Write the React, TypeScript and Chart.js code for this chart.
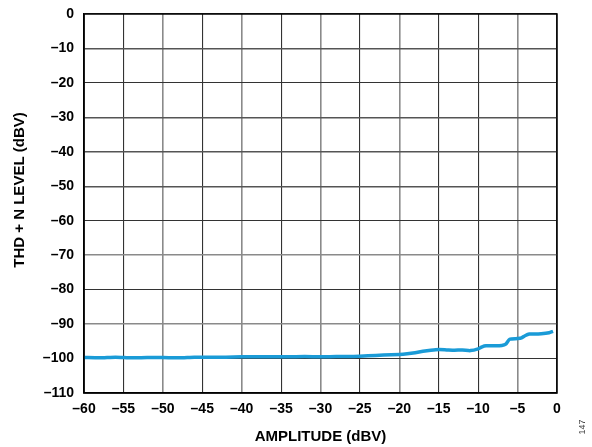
import React, { useEffect, useRef } from "react";
import { Chart, registerables } from "chart.js";

Chart.register(...registerables);

const amplitude = [-60, -58, -56, -54, -52, -50, -48, -46, -44, -42, -40, -38, -36, -34, -32, -30, -28, -26, -24, -22, -20, -19, -18, -17, -16, -15, -14, -13, -12, -11, -10, -9.5, -9, -8, -7, -6.5, -6, -5, -4.5, -4, -3.5, -3, -2, -1, -0.5];
const thdN = [-99.7, -99.8, -99.6, -99.8, -99.7, -99.7, -99.8, -99.6, -99.6, -99.6, -99.5, -99.5, -99.5, -99.5, -99.4, -99.5, -99.4, -99.4, -99.2, -99.0, -98.8, -98.6, -98.3, -97.9, -97.6, -97.4, -97.5, -97.6, -97.5, -97.7, -97.2, -96.6, -96.3, -96.3, -96.2, -95.8, -94.4, -94.2, -94.0, -93.3, -92.9, -92.9, -92.8, -92.5, -92.1];

const xTitle = "AMPLITUDE (dBV)";
const yTitle = "THD + N LEVEL (dBV)";
const figureId = "147";
const xGrayTicks = [-50, -40, -30, -20, -5];
const yGrayTicks = [-70, -90];
const yMidTicks = [-10, -30, -40, -50];

const fmt = (v: number | string) => String(v).replace("-", "–");
const FAMILY = "'Liberation Sans', Arial, sans-serif";

export default function App() {
  const ref = useRef<HTMLCanvasElement>(null);
  useEffect(() => {
    const canvas = ref.current!;
    const framePlugin = {
      id: "frame",
      afterDraw(chart: any) {
        const { ctx, chartArea } = chart;
        ctx.save();
        ctx.strokeStyle = "#000";
        ctx.lineWidth = 1.5;
        ctx.strokeRect(chartArea.left, chartArea.top, chartArea.right - chartArea.left, chartArea.bottom - chartArea.top);
        ctx.restore();

        ctx.save();
        ctx.translate(20, 190);
        ctx.rotate(-Math.PI / 2);
        ctx.fillStyle = "#000";
        ctx.font = `bold 15px ${FAMILY}`;
        ctx.textAlign = "center";
        ctx.textBaseline = "middle";
        ctx.fillText(yTitle, 0, 0);
        ctx.restore();

        ctx.save();
        ctx.translate(583, 427);
        ctx.rotate(-Math.PI / 2);
        ctx.fillStyle = "#444";
        ctx.font = `9px ${FAMILY}`;
        ctx.textAlign = "center";
        ctx.textBaseline = "middle";
        ctx.fillText(figureId, 0, 0);
        ctx.restore();
      },
    };
    const font = { family: FAMILY, size: 13, weight: "bold" as const };
    const chart = new Chart(canvas, {
      type: "line",
      data: {
        datasets: [
          {
            data: amplitude.map((x, i) => ({ x, y: thdN[i] })),
            borderColor: "#1a9bd7",
            borderWidth: 3.5,
            pointRadius: 0,
            tension: 0.2,
            fill: false,
          },
        ],
      },
      options: {
        animation: false,
        responsive: false,
        maintainAspectRatio: false,
        layout: { padding: { left: 0, top: 14, right: 35, bottom: 0 } },
        plugins: { legend: { display: false }, tooltip: { enabled: false } },
        scales: {
          x: {
            type: "linear",
            min: -60,
            max: 0,
            afterFit: (s: any) => { s.height = 54; s.paddingLeft = 0; s.paddingRight = 0; },
            ticks: { stepSize: 5, color: "#000", font: { ...font, size: 14 }, padding: 8, callback: (v: any) => fmt(v), maxRotation: 0 },
            grid: {
              color: (c: any) => (xGrayTicks.includes(c.tick?.value) ? "#8a8a8a" : "#333"),
              lineWidth: (c: any) => (xGrayTicks.includes(c.tick?.value) ? 1.6 : 1.1),
              drawTicks: false,
            },
            border: { color: "#000", width: 1.5 },
            title: { display: true, text: xTitle, color: "#000", font: { ...font, size: 15 }, padding: { top: 0, bottom: 1 } },
          },
          y: {
            type: "linear",
            min: -110,
            max: 0,
            afterFit: (s: any) => { s.width = 84; s.paddingTop = 0; s.paddingBottom = 0; },
            ticks: { stepSize: 10, color: "#000", font: { ...font, size: 14 }, padding: 10, callback: (v: any) => fmt(v) },
            grid: {
              color: (c: any) => (yGrayTicks.includes(c.tick?.value) ? "#8a8a8a" : yMidTicks.includes(c.tick?.value) ? "#555" : "#333"),
              lineWidth: (c: any) => (yGrayTicks.includes(c.tick?.value) ? 1.6 : yMidTicks.includes(c.tick?.value) ? 1.4 : 1.1),
              drawTicks: false,
            },
            border: { color: "#000", width: 1.5 },
            title: { display: false, text: yTitle },
          },
        },
      },
      plugins: [framePlugin],
    });
    return () => chart.destroy();
  }, []);
  return (
    <div style={{ position: "fixed", left: 0, top: 0, width: 592, height: 447, background: "#fff" }}>
      <canvas ref={ref} width={592} height={447} style={{ display: "block" }} />
    </div>
  );
}
